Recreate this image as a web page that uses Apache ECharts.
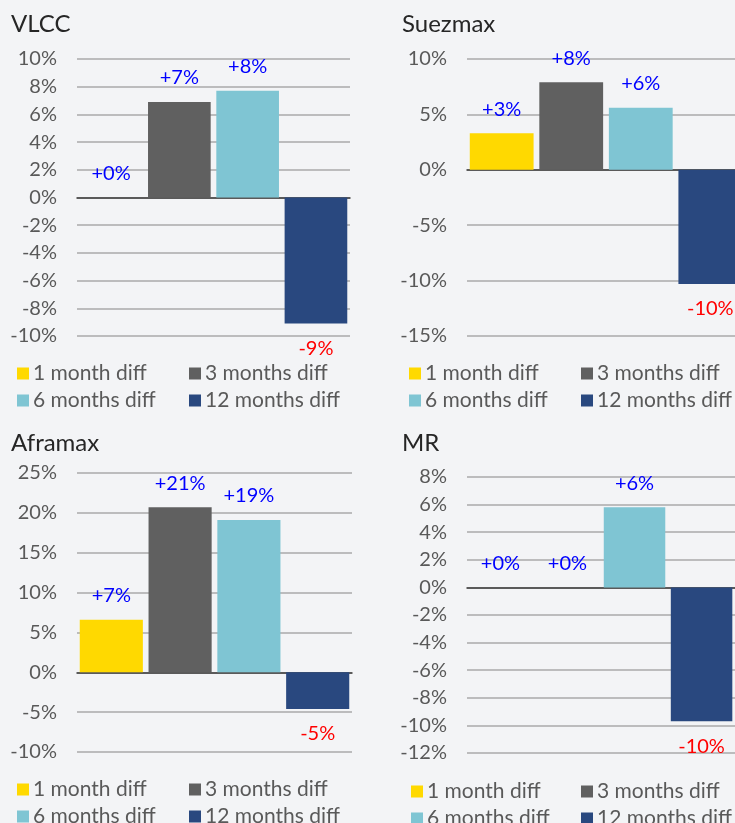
<!DOCTYPE html>
<html>
<head>
<meta charset="utf-8">
<script src="https://cdn.jsdelivr.net/npm/echarts@6/dist/echarts.min.js"></script>
<style>
  html, body { margin: 0; padding: 0; background: #f3f4f6; }
  #chart { width: 735px; height: 823px; }
</style>
</head>
<body>
<div id="chart"></div>
<script>
// series names and bar colours
const seriesNames = ['1 month diff', '3 months diff', '6 months diff', '12 months diff']
const colors = ['#ffd900', '#606060', '#7fc5d3', '#29487f']

// % change per vessel class
const panelTitles = ['VLCC', 'Suezmax', 'Aframax', 'MR']
const vlcc = [0, 6.9, 7.7, -9.1]
const suezmax = [3.3, 7.9, 5.6, -10.3]
const aframax = [6.6, 20.7, 19.1, -4.6]
const mr = [0, 0, 5.8, -9.7]
const panelData = [vlcc, suezmax, aframax, mr]

// y axis ranges [min, max, interval]
const yRanges = [[-10, 10, 2], [-15, 10, 5], [-10, 25, 5], [-12, 8, 2]]

const font = 'Lato'

// panel layout (suezmax runs past the right edge, as in the original)
const grids = [
  { left: 77, top: 59, width: 273, height: 277 },
  { left: 467, top: 59, width: 278, height: 277 },
  { left: 77, top: 473, width: 275, height: 279 },
  { left: 467, top: 477, width: 268, height: 276 }
].map(g => Object.assign(g, { outerBoundsMode: 'none' }))
const titlePos = [[11, 12], [402, 12], [11, 431], [402, 431]]
const legendPos = [[17, 189, 363], [409, 581, 363], [17, 189, 779], [411, 581, 781]]

const chart = echarts.init(document.getElementById('chart'))

const fmt = v => (v >= 0 ? '+' : '') + Math.round(v) + '%'

const series = []
panelData.forEach((vals, p) => {
  vals.forEach((v, i) => {
    series.push({
      type: 'bar',
      name: seriesNames[i],
      xAxisIndex: p,
      yAxisIndex: p,
      barCategoryGap: '2%',
      barGap: '9%',
      itemStyle: { color: colors[i] },
      data: [{
        value: v,
        label: {
          show: true,
          position: v >= 0 ? 'top' : 'bottom',
          distance: v >= 0 ? 14 : 15,
          formatter: p2 => fmt(p2.value),
          color: v >= 0 ? '#0000ff' : '#ff0000',
          fontFamily: font,
          fontSize: 20
        }
      }]
    })
  })
})

const legends = []
legendPos.forEach(([l1, l2, top]) => {
  [[l1, [seriesNames[0], seriesNames[2]]], [l2, [seriesNames[1], seriesNames[3]]]].forEach(([left, data]) => {
    legends.push({
      left, top,
      height: 80,
      orient: 'vertical',
      padding: 0,
      itemGap: 6,
      itemWidth: 12,
      itemHeight: 12,
      icon: 'rect',
      data,
      textStyle: { fontFamily: font, fontSize: 21, lineHeight: 20, color: '#595959', padding: [0, 0, 0, -1] }
    })
  })
})

chart.setOption({
  backgroundColor: '#f3f4f6',
  animation: false,
  title: panelTitles.map((t, i) => ({
    text: t,
    left: titlePos[i][0],
    top: titlePos[i][1],
    padding: 0,
    textStyle: { fontFamily: font, fontSize: 24, fontWeight: 'normal', color: '#262626' }
  })),
  legend: legends,
  grid: grids,
  xAxis: grids.map((g, i) => ({
    type: 'category',
    gridIndex: i,
    data: [''],
    axisLine: { onZero: true, lineStyle: { color: '#3a3a3a', width: 1.5 } },
    axisTick: { show: false },
    axisLabel: { show: false }
  })),
  yAxis: yRanges.map(([min, max, interval], i) => ({
    type: 'value',
    gridIndex: i,
    min, max, interval,
    axisLine: { show: false },
    axisTick: { show: false },
    axisLabel: {
      margin: 20,
      formatter: v => v + '%',
      fontFamily: font,
      fontSize: 20,
      color: '#595959'
    },
    splitLine: { lineStyle: { color: '#aaaaaa', width: 1.5 } }
  })),
  series
})
</script>
</body>
</html>
